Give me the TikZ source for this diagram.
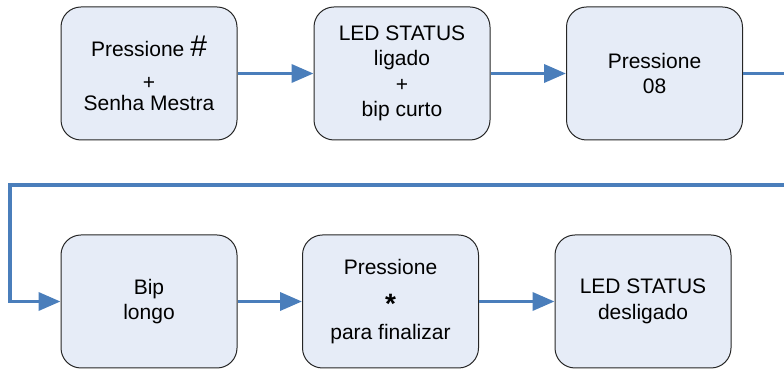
\documentclass[tikz,border=0pt]{standalone}
\usepackage{fontspec}
\setmainfont{Liberation Sans}
\usetikzlibrary{arrows.meta}
\definecolor{flowblue}{HTML}{4A7EBB}
\definecolor{boxfill}{HTML}{E6ECF7}
\begin{document}
\begin{tikzpicture}[x=1pt,y=1pt,
  box/.style={draw=black!85, line width=1pt, fill=boxfill, rounded corners=20pt,
    minimum width=176pt, minimum height=133pt, align=center,
    font=\fontsize{21}{25.5}\selectfont, inner sep=0pt},
  flow/.style={draw=flowblue, line width=3.6pt, -{Triangle[length=22pt,width=18pt]}}]
\useasboundingbox (0,0) rectangle (784,371);
\node[box] (b1) at (149,297.5) {Pressione {\fontsize{30}{30}\selectfont\#}\\[6.7pt] +\\[-4.3pt] Senha Mestra};
\node[box] (b2) at (402,297.5) {LED STATUS\\ ligado\\ +\\ bip curto};
\node[box] (b3) at (654.5,297.5) {Pressione\\ 08};
\node[box] (b4) at (149,69.5) {Bip\\ longo};
\node[box] (b5) at (390.5,69.5) {Pressione\\[14pt] {\fontsize{28}{28}\selectfont\bfseries *}\\ para finalizar};
\node[box] (b6) at (643,69.5) {LED STATUS\\ desligado};
\coordinate (r1) at (795,297.5);
\coordinate (r2) at (795,186);
\coordinate (l1) at (10,186);
\coordinate (l2) at (10,69.5);
\draw[flow] (b1.east) -- (b2.west);
\draw[flow] (b2.east) -- (b3.west);
\draw[flow] (b3.east) -- (r1) -- (r2) -- (l1) -- (l2) -- (b4.west);
\draw[flow] (b4.east) -- (b5.west);
\draw[flow] (b5.east) -- (b6.west);
\end{tikzpicture}
\end{document}
